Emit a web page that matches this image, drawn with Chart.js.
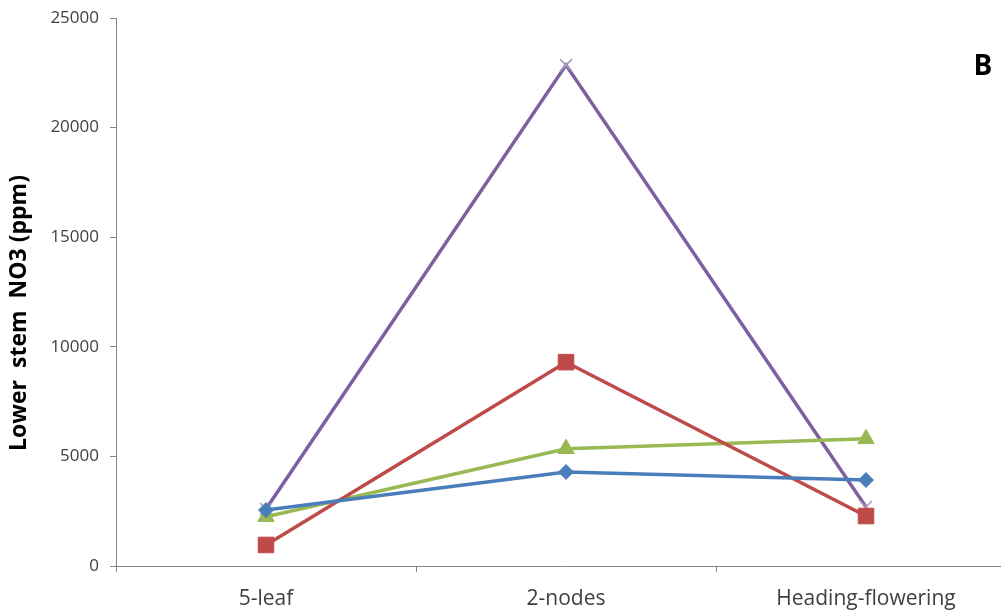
<!DOCTYPE html>
<html>
<head>
<meta charset="utf-8">
<script src="https://cdn.jsdelivr.net/npm/chart.js@4/dist/chart.umd.min.js"></script>
<style>
  html, body { margin: 0; padding: 0; background: #fff; overflow: hidden; }
  #wrap { position: absolute; left: 0; top: 0; width: 1016px; height: 610px; }
  #c { display: block; width: 1016px; height: 610px; }
</style>
</head>
<body>
<div id="wrap"><canvas id="c" width="1016" height="610"></canvas></div>
<script>
const categories = ['5-leaf', '2-nodes', 'Heading-flowering'];
const seriesBlue = [2550, 4290, 3920];
const seriesRed = [960, 9300, 2280];
const seriesGreen = [2250, 5350, 5800];
const seriesPurple = [2600, 22850, 2690];
const yTicks = [0, 5000, 10000, 15000, 20000, 25000];
const yTitle = 'Lower  stem  NO3 (ppm)';
const panelLabel = 'B';

const overlay = {
  id: 'overlay',
  afterDraw(chart) {
    const ctx = chart.ctx;
    ctx.save();
    ctx.fillStyle = '#000';
    ctx.font = 'bold 23px "Open Sans"';
    ctx.textAlign = 'center';
    ctx.textBaseline = 'middle';
    ctx.translate(19, 313);
    ctx.rotate(-Math.PI / 2);
    ctx.fillText(yTitle, 0, 0);
    ctx.restore();
    ctx.save();
    ctx.fillStyle = '#000';
    ctx.font = 'bold 28px "Open Sans"';
    ctx.textAlign = 'center';
    ctx.textBaseline = 'middle';
    ctx.fillText(panelLabel, 983, 67);
    ctx.restore();
  }
};

function ds(data, color, style, radius, extra) {
  return Object.assign({
    data: data,
    borderColor: color,
    backgroundColor: color,
    borderWidth: 3.5,
    pointStyle: style,
    pointRadius: radius,
    pointBackgroundColor: color,
    pointBorderColor: color,
    pointBorderWidth: 1,
    tension: 0,
    fill: false
  }, extra || {});
}

new Chart(document.getElementById('c'), {
  type: 'line',
  data: {
    labels: categories,
    datasets: [
      ds(seriesBlue, '#4A7EBB', 'rectRot', 7.5),
      ds(seriesRed, '#BE4B48', 'rect', 11),
      ds(seriesGreen, '#98B954', 'triangle', 9.5),
      ds(seriesPurple, '#7D60A0', 'crossRot', 8.5, { pointBorderColor: '#A897C0', pointBorderWidth: 1.5 })
    ]
  },
  options: {
    responsive: false,
    maintainAspectRatio: false,
    animation: false,
    devicePixelRatio: 1,
    layout: { autoPadding: false, padding: { top: 18, right: 0, left: 0, bottom: 0 } },
    plugins: { legend: { display: false }, tooltip: { enabled: false } },
    scales: {
      x: {
        type: 'category',
        offset: true,
        grid: { display: true, offset: true, drawOnChartArea: false, drawTicks: true, tickLength: 6, color: '#868686' },
        border: { display: true, color: '#868686', width: 1 },
        ticks: { color: '#404040', font: { family: 'Open Sans', size: 21 }, padding: 14, maxRotation: 0, autoSkip: false },
        afterFit(scale) { scale.height = 44; scale.paddingLeft = 0; scale.paddingRight = 0; }
      },
      y: {
        min: 0, max: 25000,
        afterBuildTicks(scale) { scale.ticks = yTicks.map(v => ({ value: v })); },
        grid: { display: true, drawOnChartArea: false, drawTicks: true, tickLength: 6, color: '#868686' },
        border: { display: true, color: '#868686', width: 1 },
        ticks: { color: '#404040', font: { family: 'Open Sans', size: 17 }, padding: 11, callback: (v) => String(v) },
        afterFit(scale) { scale.width = 116; scale.paddingTop = 0; scale.paddingBottom = 0; }
      }
    }
  },
  plugins: [overlay]
});
</script>
</body>
</html>
